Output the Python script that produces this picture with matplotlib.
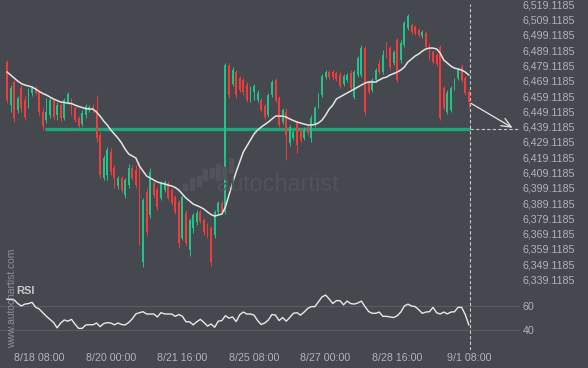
import numpy as np
import matplotlib
matplotlib.use("Agg")
import matplotlib.pyplot as plt
from matplotlib.patches import Rectangle

plt.rcParams['font.family'] = ['Liberation Sans', 'DejaVu Sans']

# 2h candles, x is the bar index (weekend gap removed)
tick_bars = [9, 29, 49, 69, 89, 109, 129]
tick_labels = ['8/18 08:00', '8/20 00:00', '8/21 16:00', '8/25 08:00',
               '8/27 00:00', '8/28 16:00', '9/1 08:00']

open_ = [6481.4, 6453.2, 6468.3, 6450.0, 6464.3, 6456.5, 6453.2, 6461.1, 6464.3, 6461.7,
         6448.6, 6443.4, 6446.7, 6456.5, 6446.7, 6453.2, 6444.7, 6455.2, 6456.5, 6451.3,
         6444.7, 6440.8, 6446.7, 6450.0, 6451.9, 6450.0, 6433.6, 6405.5, 6407.5, 6422.5,
         6412.0, 6400.3, 6405.5, 6394.4, 6400.9, 6412.0, 6410.7, 6414.0, 6350.6, 6396.3,
         6381.3, 6402.2, 6397.6, 6392.4, 6397.6, 6402.2, 6397.6, 6393.1, 6389.8, 6366.3,
         6382.6, 6358.4, 6372.8, 6376.7, 6383.3, 6378.0, 6374.1, 6372.8, 6368.2, 6383.3,
         6389.1, 6383.3, 6478.7, 6467.0, 6474.8, 6470.9, 6469.6, 6466.3, 6456.5, 6461.7,
         6456.5, 6456.5, 6452.6, 6446.7, 6459.8, 6469.6, 6457.8, 6442.1, 6448.6, 6428.4,
         6431.6, 6441.5, 6436.9, 6431.6, 6438.8, 6431.6, 6440.2, 6453.2, 6459.8, 6471.5,
         6474.8, 6474.8, 6474.2, 6472.9, 6467.0, 6469.6, 6474.2, 6458.5, 6472.9, 6472.9,
         6490.5, 6468.3, 6463.0, 6469.6, 6480.0, 6474.8, 6492.5, 6490.5, 6480.7, 6495.7,
         6482.7, 6492.5, 6503.6, 6505.6, 6504.2, 6502.3, 6498.4, 6500.3, 6492.5, 6487.9,
         6485.9, 6491.2, 6464.3, 6448.6, 6450.0, 6464.3, 6470.9, 6478.1, 6470.9, 6461.7]
high = [6482.7, 6466.3, 6469.6, 6459.1, 6466.3, 6459.1, 6464.3, 6465.7, 6465.7, 6463.0,
        6451.3, 6457.8, 6458.5, 6457.8, 6455.2, 6454.5, 6457.8, 6461.7, 6457.8, 6452.6,
        6446.0, 6450.0, 6453.9, 6453.2, 6453.9, 6459.8, 6435.6, 6420.5, 6425.8, 6425.1,
        6414.0, 6406.8, 6406.8, 6405.5, 6414.6, 6414.0, 6414.0, 6415.9, 6392.4, 6398.9,
        6412.0, 6404.2, 6399.6, 6403.5, 6404.2, 6403.5, 6398.9, 6394.4, 6391.1, 6394.4,
        6384.6, 6379.3, 6382.6, 6384.6, 6384.6, 6379.3, 6376.1, 6374.1, 6384.6, 6390.5,
        6390.5, 6480.7, 6480.7, 6478.1, 6476.1, 6472.2, 6470.9, 6468.3, 6465.7, 6467.0,
        6463.0, 6457.8, 6453.9, 6461.1, 6469.6, 6470.9, 6459.1, 6451.3, 6451.3, 6440.2,
        6436.9, 6442.8, 6438.2, 6438.8, 6440.2, 6446.7, 6452.6, 6461.1, 6473.5, 6476.1,
        6476.1, 6476.1, 6475.5, 6474.8, 6473.5, 6474.2, 6476.1, 6476.1, 6485.3, 6492.5,
        6491.8, 6469.6, 6470.9, 6477.4, 6482.7, 6489.2, 6494.4, 6491.8, 6489.2, 6497.0,
        6495.7, 6508.2, 6512.7, 6506.9, 6505.6, 6503.6, 6502.3, 6501.6, 6493.8, 6489.2,
        6487.2, 6492.5, 6465.7, 6463.0, 6465.7, 6470.9, 6477.4, 6480.0, 6472.2, 6463.0]
low = [6454.5, 6448.6, 6442.1, 6448.0, 6448.6, 6443.4, 6451.3, 6459.1, 6459.8, 6446.0,
       6436.9, 6441.5, 6444.7, 6443.4, 6443.4, 6442.1, 6443.4, 6453.9, 6446.7, 6442.1,
       6438.2, 6439.5, 6444.7, 6448.6, 6448.0, 6429.0, 6405.5, 6404.2, 6404.2, 6407.5,
       6398.9, 6398.3, 6396.3, 6392.4, 6398.9, 6404.2, 6398.9, 6361.7, 6347.3, 6367.6,
       6379.3, 6392.4, 6384.6, 6391.1, 6396.3, 6391.1, 6387.8, 6381.9, 6359.7, 6364.9,
       6361.0, 6354.5, 6369.5, 6374.8, 6376.1, 6368.2, 6366.3, 6347.9, 6366.3, 6381.9,
       6381.9, 6381.9, 6457.8, 6465.7, 6457.8, 6461.7, 6459.8, 6455.2, 6455.2, 6456.5,
       6455.2, 6448.6, 6444.1, 6445.4, 6458.5, 6455.2, 6438.8, 6440.8, 6417.3, 6426.4,
       6430.3, 6421.8, 6429.0, 6430.3, 6433.6, 6429.0, 6438.8, 6451.3, 6458.5, 6470.2,
       6470.2, 6469.6, 6468.9, 6464.3, 6465.7, 6468.3, 6463.0, 6457.2, 6471.5, 6471.5,
       6446.7, 6460.4, 6461.7, 6468.3, 6473.5, 6473.5, 6484.0, 6476.1, 6479.4, 6468.3,
       6480.7, 6491.2, 6502.3, 6499.7, 6499.0, 6497.7, 6497.0, 6489.9, 6482.7, 6480.0,
       6478.7, 6443.4, 6450.0, 6447.3, 6448.6, 6463.0, 6469.6, 6468.3, 6459.8, 6451.3]
close = [6456.5, 6464.3, 6444.7, 6457.8, 6451.3, 6445.4, 6463.0, 6464.3, 6461.1, 6448.6,
         6439.5, 6448.6, 6456.5, 6445.4, 6453.2, 6444.7, 6456.5, 6460.4, 6448.0, 6443.4,
         6439.5, 6448.0, 6452.6, 6451.9, 6450.0, 6431.6, 6407.5, 6418.6, 6423.8, 6409.4,
         6405.5, 6405.5, 6397.6, 6404.2, 6412.0, 6405.5, 6400.9, 6364.9, 6391.1, 6370.2,
         6409.4, 6394.4, 6386.5, 6402.2, 6402.9, 6392.4, 6389.1, 6383.3, 6363.0, 6393.1,
         6363.0, 6378.0, 6381.3, 6382.6, 6377.4, 6370.2, 6367.6, 6350.6, 6383.3, 6389.1,
         6383.3, 6479.4, 6459.8, 6476.1, 6459.8, 6463.0, 6461.7, 6456.5, 6464.3, 6465.7,
         6461.1, 6450.0, 6445.4, 6459.8, 6468.3, 6456.5, 6440.2, 6450.0, 6433.6, 6438.8,
         6435.6, 6427.1, 6430.3, 6436.9, 6434.9, 6444.7, 6451.3, 6459.8, 6472.2, 6474.8,
         6471.5, 6471.5, 6470.2, 6465.7, 6472.2, 6472.9, 6464.3, 6474.8, 6484.0, 6490.5,
         6448.6, 6461.7, 6469.6, 6476.1, 6474.8, 6485.9, 6485.3, 6478.1, 6487.9, 6469.6,
         6493.8, 6506.9, 6511.4, 6501.0, 6500.3, 6499.0, 6501.0, 6491.2, 6484.0, 6481.4,
         6480.0, 6444.7, 6451.3, 6461.1, 6464.3, 6469.6, 6476.1, 6469.6, 6461.1, 6455.2]

# moving average line as drawn on the chart
ma = [6474.8, 6472.9, 6470.9, 6468.9, 6467.3, 6466.3, 6465.7, 6465.0, 6463.7, 6462.1,
      6460.8, 6459.8, 6458.5, 6457.2, 6456.2, 6455.2, 6454.9, 6454.5, 6454.2, 6453.2,
      6452.3, 6451.6, 6450.9, 6450.6, 6450.6, 6448.6, 6446.0, 6442.8, 6440.2, 6436.9,
      6434.3, 6431.6, 6428.4, 6424.4, 6421.2, 6419.9, 6418.6, 6413.3, 6410.1, 6406.8,
      6405.5, 6404.2, 6402.9, 6402.2, 6401.6, 6400.9, 6400.3, 6399.3, 6397.6, 6395.0,
      6392.4, 6390.5, 6388.5, 6387.5, 6386.5, 6385.2, 6383.3, 6381.6, 6380.6, 6381.3,
      6381.9, 6386.5, 6394.4, 6402.2, 6409.4, 6415.9, 6422.5, 6426.4, 6430.3, 6434.3,
      6436.9, 6438.8, 6440.5, 6442.1, 6444.1, 6446.0, 6446.0, 6446.0, 6445.4, 6444.1,
      6443.1, 6442.1, 6441.5, 6440.8, 6440.2, 6440.2, 6440.5, 6441.5, 6443.4, 6446.7,
      6450.6, 6453.2, 6457.2, 6458.5, 6459.8, 6461.1, 6462.4, 6463.7, 6465.0, 6466.3,
      6467.6, 6468.3, 6468.3, 6468.3, 6469.6, 6470.9, 6471.5, 6472.9, 6473.8, 6474.8,
      6476.1, 6478.1, 6481.4, 6483.3, 6485.3, 6486.6, 6488.5, 6489.9, 6490.5, 6490.5,
      6489.9, 6487.2, 6482.7, 6480.7, 6478.7, 6477.4, 6476.8, 6476.1, 6474.8, 6472.9]

rsi = [65.5, 65.3, 65.0, 62.0, 60.0, 61.6, 62.0, 63.0, 59.0, 57.5,
       54.5, 51.5, 49.0, 46.5, 42.0, 46.0, 48.5, 47.5, 49.0, 45.0,
       41.6, 41.6, 44.4, 44.6, 44.5, 46.0, 43.0, 45.5, 46.3, 46.0,
       44.5, 46.0, 44.8, 44.4, 46.5, 49.5, 53.5, 54.5, 55.3, 53.4,
       53.4, 53.4, 51.0, 54.5, 53.5, 53.4, 53.4, 51.5, 53.0, 51.5,
       47.0, 47.0, 44.5, 47.0, 49.0, 46.5, 43.5, 45.2, 42.5, 47.5,
       48.0, 52.0, 50.0, 51.0, 47.2, 52.8, 55.0, 53.4, 53.4, 52.5,
       48.0, 44.8, 46.0, 48.5, 53.0, 52.5, 48.0, 50.5, 47.5, 50.6,
       54.0, 54.5, 52.5, 55.0, 58.0, 59.5, 59.5, 63.5, 67.5, 69.0,
       65.8, 62.0, 64.4, 64.4, 61.0, 64.0, 62.0, 61.6, 62.5, 64.0,
       59.5, 55.5, 54.0, 54.0, 55.0, 51.5, 51.5, 51.0, 50.5, 52.0,
       55.0, 60.0, 61.5, 60.0, 59.5, 57.0, 54.0, 55.0, 55.3, 58.9,
       54.5, 53.4, 55.0, 53.5, 55.0, 55.3, 58.9, 58.9, 53.0, 44.5]

support_level = 6437.4
support_start = 10.7
target_bar = 141.9
price_ticks = [6339.1185 + 10 * k for k in range(19)]

bg = '#45484e'
up_col = '#22c388'
down_col = '#f23b3b'
txt_col = '#b0b3b8'
mark_col = '#505359'

fig = plt.figure(figsize=(5.88, 3.68), dpi=100)
fig.patch.set_facecolor(bg)
W, H = 588.0, 368.0
ax = fig.add_axes([0, 1 - 284 / H, 520 / W, 284 / H])
ax2 = fig.add_axes([0, 1 - 350 / H, 520 / W, 66 / H])
for a in (ax, ax2):
    a.set_facecolor(bg)
    for s in a.spines.values():
        s.set_visible(False)

x = np.arange(len(close))
o = np.array(open_)
c = np.array(close)
cols = [up_col if cc >= oo else down_col for oo, cc in zip(o, c)]

ax.vlines(x, low, high, colors=cols, lw=0.7, zorder=3)
ax.bar(x, np.maximum(np.abs(c - o), 0.4), bottom=np.minimum(o, c), width=0.52,
       color=cols, zorder=3)
ax.plot(x, ma, color='#e4e4e4', lw=1.1, zorder=4)

# support level and forecast
last = x[-1]
ax.plot([support_start, last + 0.4], [support_level, support_level],
        color='#1fa67b', lw=2.4, zorder=2, solid_capstyle='butt')
ax.plot([last + 0.4, 143.3], [support_level, support_level],
        color='#c9c9c9', lw=0.8, ls=(0, (3, 2)), zorder=2)
ax.annotate('', xy=(target_bar, support_level), xytext=(last, close[-1]),
            arrowprops=dict(arrowstyle='->,head_length=0.7,head_width=0.3',
                            color='#e6e6e6', lw=0.9), zorder=5)
ax.axvline(last + 0.4, ymax=(6519.3 - 6336.2) / (6521.93 - 6336.2),
           color='#c9c9c9', lw=0.8, ls=(0, (3, 2)), zorder=2)

ax.set_xlim(-1.96, 143.3)
ax.set_ylim(6336.2, 6521.93)
ax.set_xticks([])
ax.yaxis.tick_right()
ax.set_yticks(price_ticks)
ax.set_yticklabels(['{:,.4f}'.format(v) for v in price_ticks])
ax.tick_params(axis='y', length=0, pad=2, labelsize=7.7, labelcolor=txt_col)

# RSI panel
ax2.plot(x, rsi, color='#e8e8e8', lw=1.0, zorder=3)
for lvl in (40, 60):
    ax2.axhline(lvl, color='#595c62', lw=0.8, zorder=1)
ax2.axvline(last + 0.4, color='#c9c9c9', lw=0.8, ls=(0, (3, 2)), zorder=2)
ax2.set_xlim(-1.96, 143.3)
ax2.set_ylim(23.8, 78.1)
ax2.yaxis.tick_right()
ax2.set_yticks([40, 60])
ax2.tick_params(axis='y', length=0, pad=2, labelsize=7.7, labelcolor=txt_col)
ax2.set_xticks(tick_bars)
ax2.set_xticklabels(tick_labels)
ax2.tick_params(axis='x', length=0, pad=2, labelsize=7.7, labelcolor=txt_col)

# texts and watermark
fig.text(12 / W, 1 - 298 / H, 'www.autochartist.com', rotation=90, fontsize=7.4,
         color='#8c8f95', va='center', ha='center')
fig.text(16 / W, 1 - 291 / H, 'RSI', fontsize=8, fontweight='bold',
         color='#c8c8c8', va='center', ha='left')
fig.text(217 / W, 1 - 185 / H, 'autochartist', fontsize=16.8, color=mark_col,
         va='center', ha='left')
logo_bars = [(183, 184, 190), (190, 178, 190), (197, 176, 186), (203, 169, 180),
             (210, 168, 177), (216, 164, 180), (222, 167, 177), (229, 158, 172)]
for bx, top, bot in logo_bars:
    fig.patches.append(Rectangle((bx / W, 1 - bot / H), 4 / W, (bot - top) / H,
                                 transform=fig.transFigure, color=mark_col, zorder=0))

fig.savefig('out.png', dpi=100, facecolor=bg)
